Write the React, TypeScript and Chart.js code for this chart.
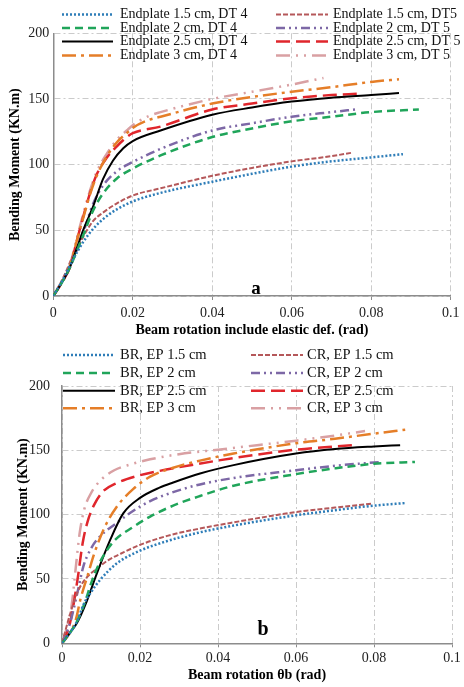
import React, { useEffect, useRef } from "react";
import { Chart, registerables } from "chart.js";

Chart.register(...registerables);

type Pt = [number, number];

// ---------- Panel a : rotation including elastic deformation ----------
const A_EP15_DT4: Pt[] = [[0,0],[0.0025,13],[0.005,28],[0.0075,41],[0.01,51],[0.0125,58.5],[0.016,66],[0.02,72],[0.027,78.5],[0.04,87],[0.05,93],[0.06,98.5],[0.07,102.5],[0.08,105.5],[0.088,108]];
const A_EP2_DT4: Pt[] = [[0,0],[0.0025,12],[0.0042,22],[0.0075,46],[0.01,65],[0.0125,78],[0.016,89.5],[0.02,97],[0.027,107],[0.04,121],[0.05,127.5],[0.06,133],[0.07,136.5],[0.08,140],[0.092,142]];
const A_EP25_DT4: Pt[] = [[0,0],[0.0025,12],[0.0042,22],[0.006,37],[0.0075,50],[0.01,68],[0.0125,89],[0.015,103],[0.0176,112.5],[0.02,118],[0.027,126],[0.04,138],[0.05,143.5],[0.06,148],[0.07,151],[0.08,153],[0.087,154.5]];
const A_EP3_DT4: Pt[] = [[0,0],[0.0025,12],[0.0042,23],[0.006,43],[0.0075,59],[0.0092,77],[0.011,92],[0.0134,106],[0.016,117],[0.0185,124],[0.02,128],[0.024,134],[0.027,136.5],[0.04,146.5],[0.05,151.5],[0.06,155.5],[0.07,159],[0.08,163],[0.087,165]];
const A_EP15_DT5: Pt[] = [[0,0],[0.0025,14],[0.005,31],[0.0075,45],[0.01,57],[0.0125,63.5],[0.016,70.5],[0.02,76.5],[0.027,82],[0.04,91.5],[0.05,97.5],[0.06,102.5],[0.07,106.5],[0.075,109]];
const A_EP2_DT5: Pt[] = [[0,0],[0.0025,12],[0.0042,22],[0.0075,48],[0.01,70],[0.0125,84],[0.016,95],[0.02,102],[0.027,112],[0.04,126],[0.05,131.5],[0.06,136.5],[0.07,140],[0.076,142]];
const A_EP25_DT5: Pt[] = [[0,0],[0.0025,12],[0.0042,22],[0.006,43],[0.0075,60],[0.0092,78],[0.011,93],[0.0134,105],[0.016,114],[0.0185,121],[0.02,124],[0.027,129],[0.04,142],[0.05,146.5],[0.06,150.5],[0.07,153],[0.0765,154]];
const A_EP3_DT5: Pt[] = [[0,0],[0.0025,13],[0.0042,24],[0.006,45],[0.0075,62],[0.0092,80],[0.011,95],[0.0134,108],[0.016,119],[0.0185,126],[0.02,130],[0.024,137],[0.027,140],[0.04,150],[0.05,155.5],[0.06,161],[0.068,166]];

// ---------- Panel b : beam rotation θb ----------
const B_BR15: Pt[] = [[0,0],[0.002,8],[0.004,18],[0.0055,30],[0.0075,40],[0.0097,49],[0.014,62],[0.02,72],[0.027,79.5],[0.035,86],[0.044,91.5],[0.06,99.5],[0.07,103.5],[0.08,107],[0.088,109]];
const B_BR2: Pt[] = [[0,0],[0.002,8],[0.004,18],[0.006,33],[0.0075,47],[0.0097,63],[0.0132,79],[0.0183,90.5],[0.0226,98.5],[0.0285,107],[0.0354,114.5],[0.044,122.5],[0.06,131.5],[0.07,136],[0.08,139.5],[0.0905,141]];
const B_BR25: Pt[] = [[0,0],[0.002,8],[0.0038,15.5],[0.006,30],[0.0089,54],[0.0123,80],[0.0157,101],[0.02,113],[0.025,121],[0.0285,125],[0.0354,132],[0.044,138.5],[0.06,147.5],[0.07,151],[0.08,153],[0.0867,154]];
const B_BR3: Pt[] = [[0,0],[0.002,8],[0.0035,18],[0.0048,35],[0.0065,52],[0.0083,70],[0.0109,90],[0.014,106],[0.0183,120],[0.0226,129.5],[0.0285,136.5],[0.0354,142],[0.044,147.5],[0.06,155.5],[0.07,159],[0.08,163],[0.088,166]];
const B_CR15: Pt[] = [[0,0],[0.002,22],[0.004,40],[0.006,50],[0.0085,57],[0.0118,64.5],[0.016,71],[0.02,76.5],[0.027,83.5],[0.035,89],[0.044,94],[0.06,102],[0.07,105.5],[0.0795,108.5]];
const B_CR2: Pt[] = [[0,0],[0.002,15],[0.004,40],[0.0055,60],[0.0075,74],[0.0097,83],[0.014,93.5],[0.0183,103],[0.0226,110.5],[0.0285,117.5],[0.0354,123.5],[0.044,128.5],[0.06,134.5],[0.07,138],[0.082,141]];
const B_CR25: Pt[] = [[0,0],[0.002,15],[0.004,50],[0.0053,78],[0.0066,95],[0.0083,108],[0.0105,118],[0.014,124.5],[0.0186,129.5],[0.025,134],[0.035,139.5],[0.044,144],[0.06,150.5],[0.07,153],[0.075,154]];
const B_CR3: Pt[] = [[0,0],[0.0015,15],[0.0025,30],[0.0035,58],[0.0045,85],[0.0057,104],[0.0075,117],[0.01,127],[0.0134,134.5],[0.0175,139],[0.0226,143],[0.03,147],[0.04,150.5],[0.05,154],[0.06,157.5],[0.07,161.5],[0.0777,165]];

const A_LABELS = [
  "Endplate 1.5 cm, DT 4", "Endplate 2 cm, DT 4", "Endplate 2.5 cm, DT 4", "Endplate 3 cm, DT 4",
  "Endplate 1.5 cm, DT5", "Endplate 2 cm, DT 5", "Endplate 2.5 cm, DT 5", "Endplate 3 cm, DT 5",
];
const B_LABELS = [
  "BR, EP 1.5 cm", "BR, EP 2 cm", "BR, EP 2.5 cm", "BR, EP 3 cm",
  "CR, EP 1.5 cm", "CR, EP 2 cm", "CR, EP 2.5 cm", "CR, EP 3 cm",
];
const A_SERIES = [A_EP15_DT4, A_EP2_DT4, A_EP25_DT4, A_EP3_DT4, A_EP15_DT5, A_EP2_DT5, A_EP25_DT5, A_EP3_DT5];
const B_SERIES = [B_BR15, B_BR2, B_BR25, B_BR3, B_CR15, B_CR2, B_CR25, B_CR3];

const X_TICKS = ["0", "0.02", "0.04", "0.06", "0.08", "0.1"];
const Y_TICKS = ["0", "50", "100", "150", "200"];
const A_X_TITLE = "Beam rotation include elastic def. (rad)";
const B_X_TITLE = "Beam rotation θb (rad)";
const Y_TITLE = "Bending Moment (KN.m)";

// ---------- styles ----------
const STYLES = [
  { color: "#2E7DB8", width: 2.5, dash: [2, 2] },
  { color: "#20A55A", width: 2.5, dash: [8, 5] },
  { color: "#000000", width: 2, dash: [] as number[] },
  { color: "#E57E28", width: 2.5, dash: [14, 5, 3, 5] },
  { color: "#B5585A", width: 2, dash: [5, 2] },
  { color: "#7D68A6", width: 2.5, dash: [9, 4, 2, 4, 2, 4] },
  { color: "#E0262C", width: 2.5, dash: [14, 6] },
  { color: "#D9A0A3", width: 2.5, dash: [14, 6, 2, 6, 2, 6] },
];

const SERIF = "'Liberation Serif', 'Times New Roman', serif";

const colLegend = {
  id: "colLegend",
  afterDraw(chart: any, _args: any, opts: any) {
    const ctx = chart.ctx as CanvasRenderingContext2D;
    ctx.save();
    chart.data.datasets.forEach((ds: any, i: number) => {
      const col = opts.cols[Math.floor(i / 4)];
      const y = opts.rows[i % 4];
      ctx.beginPath();
      ctx.strokeStyle = ds.borderColor;
      ctx.lineWidth = ds.borderWidth;
      ctx.setLineDash(ds.borderDash || []);
      ctx.moveTo(col.x1, y);
      ctx.lineTo(col.x2, y);
      ctx.stroke();
      ctx.setLineDash([]);
      ctx.fillStyle = "#111";
      ctx.font = opts.font;
      ctx.textBaseline = "middle";
      ctx.textAlign = "left";
      ctx.fillText(ds.label, col.tx, y);
    });
    ctx.font = opts.tagFont;
    ctx.textAlign = "center";
    ctx.textBaseline = "alphabetic";
    ctx.fillStyle = "#000";
    ctx.fillText(opts.tag, opts.tagX, opts.tagY);
    ctx.restore();
  },
};

type PanelSpec = {
  series: Pt[][];
  labels: string[];
  xTitle: string;
  height: number;
  left: number;
  right: number;
  top: number;
  bottom: number;
  yTickPad: number;
  xTickPad: number;
  yTitlePad: number;
  xTitlePad: number;
  legend: any;
};

function makeConfig(p: PanelSpec): any {
  const grid = {
    color: "#cbcbcb",
    lineWidth: 1,
    tickColor: "#8c8c8c",
    tickWidth: 1,
    tickBorderDash: [],
  };
  const border = { display: true, color: "#8c8c8c", width: 1.5, dash: [6, 3, 2, 3] };
  return {
    type: "scatter",
    data: {
      datasets: p.series.map((s, i) => ({
        label: p.labels[i],
        data: s.map(([x, y]) => ({ x, y })),
        showLine: true,
        borderColor: STYLES[i].color,
        backgroundColor: STYLES[i].color,
        borderWidth: STYLES[i].width,
        borderDash: STYLES[i].dash,
        pointRadius: 0,
        cubicInterpolationMode: "monotone",
        fill: false,
      })),
    },
    options: {
      responsive: false,
      maintainAspectRatio: false,
      animation: false,
      devicePixelRatio: 1,
      layout: { padding: { top: p.top, right: 464 - p.right, left: 0, bottom: 0 } },
      plugins: {
        legend: { display: false },
        tooltip: { enabled: false },
        colLegend: p.legend,
      },
      scales: {
        x: {
          type: "linear",
          min: 0,
          max: 0.1,
          ticks: {
            stepSize: 0.02,
            padding: p.xTickPad,
            color: "#222",
            font: { family: SERIF, size: 14 },
            maxRotation: 0,
            callback: (_v: any, i: number) => X_TICKS[i],
          },
          grid: { ...grid, drawTicks: true, tickLength: 4 },
          border,
          title: {
            display: true,
            text: p.xTitle,
            color: "#000",
            font: { family: SERIF, size: 14, weight: "bold" },
            padding: { top: 0, bottom: p.xTitlePad },
          },
          afterFit: (s: any) => {
            s.height = p.height - p.bottom;
          },
        },
        y: {
          type: "linear",
          min: 0,
          max: 200,
          ticks: {
            stepSize: 50,
            padding: p.yTickPad,
            color: "#222",
            font: { family: SERIF, size: 14 },
            callback: (_v: any, i: number) => Y_TICKS[i],
          },
          grid: { ...grid, drawTicks: false },
          border,
          title: {
            display: true,
            text: Y_TITLE,
            color: "#000",
            font: { family: SERIF, size: 14, weight: "bold" },
            padding: { top: p.yTitlePad, bottom: 0 },
          },
          afterFit: (s: any) => {
            s.width = p.left;
          },
        },
      },
    },
    plugins: [colLegend],
  };
}

const PANEL_A: PanelSpec = {
  series: A_SERIES,
  labels: A_LABELS,
  xTitle: A_X_TITLE,
  height: 340,
  left: 53.3,
  right: 451.8,
  top: 33.3,
  bottom: 296,
  yTickPad: 4,
  xTickPad: 4.6,
  yTitlePad: 6.6,
  xTitlePad: 1.6,
  legend: {
    cols: [
      { x1: 62, x2: 113, tx: 120 },
      { x1: 276, x2: 328, tx: 333 },
    ],
    rows: [14.5, 28, 41.5, 55.5],
    font: `14px ${SERIF}`,
    tag: "a",
    tagFont: `bold 19px ${SERIF}`,
    tagX: 256,
    tagY: 294,
  },
};

const PANEL_B: PanelSpec = {
  series: B_SERIES,
  labels: B_LABELS,
  xTitle: B_X_TITLE,
  height: 347,
  left: 62,
  right: 452,
  top: 46,
  bottom: 303.3,
  yTickPad: 12,
  xTickPad: 2.3,
  yTitlePad: 14.9,
  xTitlePad: 3.6,
  legend: {
    cols: [
      { x1: 63, x2: 115, tx: 120 },
      { x1: 251, x2: 303, tx: 307 },
    ],
    rows: [15, 33, 50.7, 68.3],
    font: `14.5px ${SERIF}`,
    tag: "b",
    tagFont: `bold 20px ${SERIF}`,
    tagX: 263,
    tagY: 295,
  },
};

function Panel({ spec }: { spec: PanelSpec }) {
  const ref = useRef<HTMLCanvasElement>(null);
  useEffect(() => {
    const chart = new Chart(ref.current as HTMLCanvasElement, makeConfig(spec));
    return () => chart.destroy();
  }, [spec]);
  return (
    <canvas
      ref={ref}
      width={464}
      height={spec.height}
      style={{ display: "block", width: 464, height: spec.height }}
    />
  );
}

export default function App() {
  useEffect(() => {
    document.body.style.margin = "0";
    document.body.style.background = "#fff";
  }, []);
  return (
    <div style={{ width: 464, height: 687, background: "#fff" }}>
      <Panel spec={PANEL_A} />
      <Panel spec={PANEL_B} />
    </div>
  );
}
